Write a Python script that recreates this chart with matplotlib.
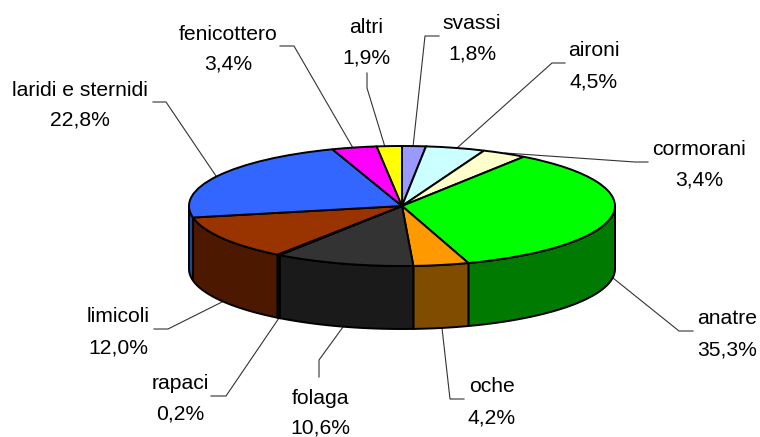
#!/usr/bin/env python3
"""Torta 3D: composizione percentuale degli uccelli acquatici."""
import numpy as np
import matplotlib
matplotlib.use("Agg")
import matplotlib.pyplot as plt
from matplotlib.patches import Wedge, Polygon
from matplotlib.transforms import Affine2D

plt.rcParams["font.family"] = ["Liberation Sans", "DejaVu Sans"]

# dati, in ordine orario a partire dalle ore 12
names = ["svassi", "aironi", "cormorani", "anatre", "oche", "folaga", "rapaci",
         "limicoli", "laridi e sternidi", "fenicottero", "altri"]
values = [1.8, 4.5, 3.4, 35.3, 4.2, 10.6, 0.2, 12.0, 22.8, 3.4, 1.9]
top_colors = ["#9999ff", "#ccffff", "#ffffcc", "#00ff00", "#ff9900", "#333333", "#003366",
              "#993300", "#3366ff", "#ff00ff", "#ffff00"]
side_colors = ["#4c4c7f", "#667f7f", "#7f7f66", "#007a00", "#7f4c00", "#1a1a1a", "#0a4a8a",
               "#4c1900", "#1a4a9a", "#7f007f", "#7f7f00"]

# geometria in pixel
CX, CY, RX, RY, DEPTH = 402, 206, 213, 60, 63

# centro orizzontale e linee di base delle due righe di ogni etichetta
label_xy = {"svassi": (472, 29, 60), "aironi": (594, 56, 87), "cormorani": (699, 155, 186),
            "anatre": (727, 324, 355), "oche": (492, 392, 423), "folaga": (320, 404, 433),
            "rapaci": (180, 389, 419), "limicoli": (118, 322, 353),
            "laridi e sternidi": (80, 96, 126), "fenicottero": (228, 40, 70),
            "altri": (366, 33, 63)}
leaders = {"svassi": ((439, 36), (425, 36), (413, 147)),
           "aironi": ((565, 63), (552, 63), (457, 148)),
           "cormorani": ((648, 162), (635, 162), (505, 153)),
           "anatre": ((693, 331), (679, 331), (613, 278)),
           "oche": ((464, 399), (450, 399), (442, 328)),
           "folaga": ((319, 377), (319, 360), (343, 327)),
           "rapaci": ((211, 396), (226, 396), (279, 318)),
           "limicoli": ((154, 329), (168, 329), (222, 302)),
           "laridi e sternidi": ((153, 102), (166, 102), (216, 176)),
           "fenicottero": ((280, 46), (294, 46), (353, 148)),
           "altri": ((367, 73), (367, 88), (385, 147))}

fig = plt.figure(figsize=(7.6, 4.37), dpi=100)
ax = fig.add_axes([0, 0, 1, 1])
ax.set_xlim(0, 760)
ax.set_ylim(437, 0)
ax.axis("off")

# angoli: asse y verso il basso, quindi l'angolo cresce in senso orario
vals = np.array(values)
edges = -90 + 360 * np.concatenate([[0], np.cumsum(vals)]) / vals.sum()

# pareti laterali (solo la meta' anteriore dell'ellisse)
for a0, a1, c in zip(edges[:-1], edges[1:], side_colors):
    lo, hi = max(a0, 0), min(a1, 180)
    if hi <= lo:
        continue
    t = np.radians(np.linspace(lo, hi, 80))
    x = CX + RX * np.cos(t)
    y = CY + RY * np.sin(t)
    pts = np.r_[np.c_[x, y], np.c_[x[::-1], y[::-1] + DEPTH]]
    ax.add_patch(Polygon(pts, closed=True, fc=c, ec="black", lw=1.4, zorder=2))

# faccia superiore
tr = Affine2D().scale(RX, RY).translate(CX, CY) + ax.transData
for a0, a1, c in zip(edges[:-1], edges[1:], top_colors):
    ax.add_patch(Wedge((0, 0), 1, a0, a1, fc=c, ec="black", lw=1.4, transform=tr, zorder=3))

for name, v in zip(names, values):
    lx, y1, y2 = label_xy[name]
    ax.text(lx, y1, name, ha="center", va="baseline", fontsize=15.2, color="black")
    ax.text(lx, y2, f"{v:.1f}%".replace(".", ","), ha="center", va="baseline",
            fontsize=15.2, color="black")
    xs, ys = zip(*leaders[name])
    ax.plot(xs, ys, color="#333333", lw=0.8, zorder=1)

fig.savefig("out.png", dpi=100)
